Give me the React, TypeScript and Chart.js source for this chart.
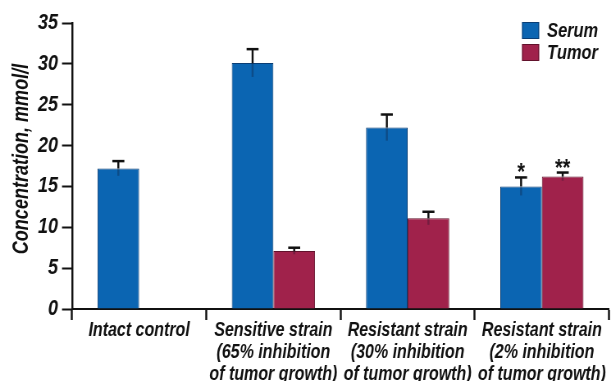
import React, { useEffect, useRef } from "react";
import { Chart, registerables } from "chart.js";

Chart.register(...registerables);

const categories: string[][] = [
  ["Intact control"],
  ["Sensitive strain", "(65% inhibition", "of tumor growth)"],
  ["Resistant strain", "(30% inhibition", "of tumor growth)"],
  ["Resistant strain", "(2% inhibition", "of tumor growth)"],
];

const serumValues: (number | null)[] = [17.2, 30.1, 22.2, 15.0];
const serumErrors: (number | null)[] = [0.9, 1.7, 1.6, 1.1];
const serumMarks: string[] = ["", "", "", "*"];

const tumorValues: (number | null)[] = [null, 7.1, 11.1, 16.2];
const tumorErrors: (number | null)[] = [null, 0.4, 0.8, 0.5];
const tumorMarks: string[] = ["", "", "", "**"];

const yTicks: number[] = [0, 5, 10, 15, 20, 25, 30, 35];
const yTitle = "Concentration, mmol/l";

// The canvas is drawn wider than it is shown and squeezed horizontally,
// which gives the lettering a narrow, condensed look.
const VIEW_W = 611;
const VIEW_H = 381;
const SQUEEZE = 0.82;
const CANVAS_W = Math.round(VIEW_W / SQUEEZE);
const sx = (px: number) => px / SQUEEZE;

const FONT = "'Liberation Sans', Arial, sans-serif";

const errorsBySeries = [serumErrors, tumorErrors];
const marksBySeries = [serumMarks, tumorMarks];

// Upper whiskers with caps, plus significance marks above them
const errorBarPlugin = {
  id: "errorBars",
  afterDatasetsDraw(chart: any) {
    const ctx = chart.ctx;
    const y = chart.scales.y;
    chart.data.datasets.forEach((ds: any, di: number) => {
      const meta = chart.getDatasetMeta(di);
      meta.data.forEach((bar: any, i: number) => {
        const v = ds.data[i];
        const e = errorsBySeries[di][i];
        if (v == null || e == null) return;
        const top = y.getPixelForValue(v + e);
        const low = y.getPixelForValue(v - e);
        const x = bar.x;
        ctx.save();
        ctx.lineWidth = sx(2);
        ctx.strokeStyle = "rgba(20,20,40,0.3)";
        ctx.beginPath();
        ctx.moveTo(x, bar.y);
        ctx.lineTo(x, low);
        ctx.stroke();
        ctx.strokeStyle = "#111";
        ctx.beginPath();
        ctx.moveTo(x, bar.y);
        ctx.lineTo(x, top);
        ctx.stroke();
        ctx.lineWidth = 2.5;
        ctx.beginPath();
        ctx.moveTo(x - sx(6), top);
        ctx.lineTo(x + sx(6), top);
        ctx.stroke();
        const mark = marksBySeries[di][i];
        if (mark) {
          ctx.fillStyle = "#111";
          ctx.font = `bold 24px ${FONT}`;
          ctx.textAlign = "center";
          ctx.textBaseline = "alphabetic";
          ctx.fillText(mark, x, top + 3);
        }
        ctx.restore();
      });
    });
  },
};

// Rotated axis title, condensed along its length like the other lettering
const yTitlePlugin = {
  id: "yTitle",
  afterDraw(chart: any) {
    const ctx = chart.ctx;
    const area = chart.chartArea;
    ctx.save();
    ctx.translate(sx(22), (area.top + area.bottom) / 2 - 7);
    ctx.scale(1 / SQUEEZE, SQUEEZE);
    ctx.rotate(-Math.PI / 2);
    ctx.fillStyle = "#111";
    ctx.font = `italic bold 22px ${FONT}`;
    ctx.textAlign = "center";
    ctx.textBaseline = "middle";
    ctx.fillText(yTitle, 0, 0);
    ctx.restore();
  },
};

// Legend drawn in the upper right corner of the plot
const cornerLegendPlugin = {
  id: "cornerLegend",
  afterDraw(chart: any) {
    const ctx = chart.ctx;
    const x0 = sx(522);
    const y0 = 22;
    chart.data.datasets.forEach((ds: any, i: number) => {
      const yy = y0 + i * 22;
      ctx.save();
      ctx.fillStyle = ds.backgroundColor;
      ctx.fillRect(x0, yy, sx(17), 17);
      ctx.strokeStyle = ds.borderColor;
      ctx.lineWidth = 1;
      ctx.strokeRect(x0 + 0.5, yy + 0.5, sx(17) - 1, 16);
      ctx.fillStyle = "#111";
      ctx.font = `italic bold 20px ${FONT}`;
      ctx.textAlign = "left";
      ctx.textBaseline = "middle";
      ctx.fillText(ds.label, x0 + sx(25), yy + 9);
      ctx.restore();
    });
  },
};

export default function App() {
  const ref = useRef<HTMLCanvasElement>(null);

  useEffect(() => {
    if (!ref.current) return;
    const chart = new Chart(ref.current, {
      type: "bar",
      data: {
        labels: categories,
        datasets: [
          {
            label: "Serum",
            data: serumValues,
            backgroundColor: "#0b65b2",
            borderColor: "#0a3e75",
            borderWidth: 1,
          },
          {
            label: "Tumor",
            data: tumorValues,
            backgroundColor: "#a0224b",
            borderColor: "#62122c",
            borderWidth: 1,
          },
        ],
      },
      options: {
        responsive: false,
        animation: false,
        devicePixelRatio: 1,
        layout: { padding: { top: 23, right: sx(2), left: 0, bottom: 0 } },
        plugins: {
          legend: { display: false },
          tooltip: { enabled: false },
        },
        datasets: {
          bar: { categoryPercentage: 0.62, barPercentage: 1, skipNull: false },
        },
        scales: {
          x: {
            offset: true,
            grid: {
              offset: true,
              drawOnChartArea: false,
              drawTicks: true,
              tickLength: 11,
              tickWidth: sx(2),
              tickColor: "#111",
            },
            border: { display: true, color: "#111", width: 2 },
            ticks: {
              color: "#111",
              padding: 0,
              maxRotation: 0,
              autoSkip: false,
              font: { family: FONT, size: 19.5, style: "italic", weight: "bold", lineHeight: 1.12 },
            },
            afterFit: (s: any) => {
              s.height = 72;
            },
          },
          y: {
            min: 0,
            max: 35,
            afterBuildTicks: (s: any) => {
              s.ticks = yTicks.map((v) => ({ value: v }));
            },
            grid: {
              drawOnChartArea: false,
              drawTicks: true,
              tickLength: sx(10),
              tickWidth: 2,
              tickColor: "#111",
            },
            border: { display: true, color: "#111", width: sx(2) },
            ticks: {
              color: "#111",
              padding: sx(4),
              font: { family: FONT, size: 22, style: "italic", weight: "bold" },
            },
            title: { display: false },
            afterFit: (s: any) => {
              s.width = sx(72);
            },
          },
        },
      },
      plugins: [errorBarPlugin, yTitlePlugin, cornerLegendPlugin],
    });
    return () => chart.destroy();
  }, []);

  return (
    <div style={{ position: "absolute", left: 0, top: 0, width: VIEW_W, height: VIEW_H, background: "#fff" }}>
      <canvas
        ref={ref}
        width={CANVAS_W}
        height={VIEW_H}
        style={{ display: "block", width: VIEW_W, height: VIEW_H }}
      />
    </div>
  );
}
